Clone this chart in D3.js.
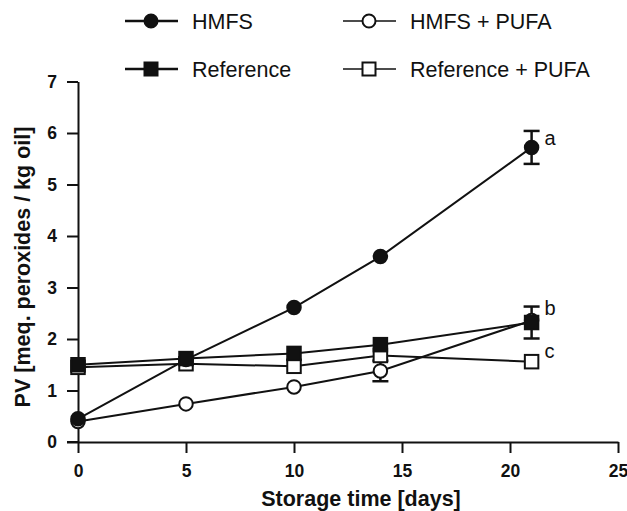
<!DOCTYPE html>
<html><head><meta charset="utf-8">
<script src="https://cdn.jsdelivr.net/npm/d3@7"></script>
<style>body{margin:0;background:#fff}svg{display:block}text{font-family:"Liberation Sans",Arial,Helvetica,sans-serif}</style>
</head><body><svg id="c" width="627" height="511"></svg>
<script>
const days = [0, 5, 10, 14, 21];
const hmfs = [0.45, 1.6, 2.61, 3.6, 5.72];
const hmfsPufa = [0.4, 0.74, 1.07, 1.38, 2.36];
const reference = [1.5, 1.62, 1.72, 1.89, 2.32];
const referencePufa = [1.45, 1.52, 1.47, 1.68, 1.56];
// error bars: [dayIndex, sd]
const errHmfs = [[4, 0.32]];
const errHmfsPufa = [[3, 0.2]];
const errReference = [[4, 0.31]];
const xTicks = [0, 5, 10, 15, 20, 25];
const yTicks = [0, 1, 2, 3, 4, 5, 6, 7];
// significance letters: [text, day, label value]
const letters = [["a", 21, 5.77], ["b", 21, 2.47], ["c", 21, 1.63]];
const legendNames = ["HMFS", "HMFS + PUFA", "Reference", "Reference + PUFA"];

const svg = d3.select("#c");
const x = d3.scaleLinear().domain([0, 25]).range([78, 618]);
const y = d3.scaleLinear().domain([0, 7]).range([442, 81.5]);

const xAx = svg.append("g").attr("transform", `translate(0,${y(0)})`)
  .call(d3.axisBottom(x).tickValues(xTicks).tickFormat(d3.format("d")).tickSize(11).tickPadding(12).tickSizeOuter(0));
const yAx = svg.append("g").attr("transform", `translate(${x(0)},0)`)
  .call(d3.axisLeft(y).tickValues(yTicks).tickFormat(d3.format("d")).tickSize(11).tickPadding(10).tickSizeOuter(0));
[xAx, yAx].forEach(a => {
  a.select(".domain").attr("stroke", "#111").attr("stroke-width", 2);
  a.selectAll(".tick line").attr("stroke", "#111").attr("stroke-width", 2);
  a.selectAll(".tick text").attr("fill", "#111").style("font-size", "17.5px").style("font-weight", "bold");
});
svg.append("line").attr("x1", x(0) - 11).attr("x2", x(0)).attr("y1", y(0)).attr("y2", y(0)).attr("stroke", "#111").attr("stroke-width", 2);

svg.append("text").attr("x", 361).attr("y", 506).attr("text-anchor", "middle")
  .style("font-size", "21.5px").style("font-weight", "bold").attr("fill", "#111").text("Storage time [days]");
svg.append("text").attr("transform", "translate(30,267) rotate(-90)").attr("text-anchor", "middle")
  .style("font-size", "21.5px").style("font-weight", "bold").attr("fill", "#111").text("PV [meq. peroxides / kg oil]");

const series = [
  {vals: referencePufa, shape: "square", fill: "#fff", err: []},
  {vals: hmfsPufa, shape: "circle", fill: "#fff", err: errHmfsPufa},
  {vals: hmfs, shape: "circle", fill: "#111", err: errHmfs},
  {vals: reference, shape: "square", fill: "#111", err: errReference},
];
const line = d3.line().x(d => x(d[0])).y(d => y(d[1]));
series.forEach(s => {
  const pts = days.map((d, i) => [d, s.vals[i]]);
  svg.append("path").attr("d", line(pts)).attr("fill", "none").attr("stroke", "#111").attr("stroke-width", 2);
});
series.forEach(s => {
  s.err.forEach(([i, sd]) => {
    const cx = x(days[i]), v = s.vals[i];
    const g = svg.append("g").attr("stroke", "#111").attr("stroke-width", 2.5);
    g.append("line").attr("x1", cx).attr("x2", cx).attr("y1", y(v + sd)).attr("y2", y(v - sd));
    [v + sd, v - sd].forEach(e => g.append("line").attr("x1", cx - 8).attr("x2", cx + 8).attr("y1", y(e)).attr("y2", y(e)));
  });
});
function marker(g, shape, fill, cx, cy, size) {
  if (shape === "circle") {
    g.append("circle").attr("cx", cx).attr("cy", cy).attr("r", size / 2 - 1)
      .attr("fill", fill).attr("stroke", "#111").attr("stroke-width", 2);
  } else {
    g.append("rect").attr("x", cx - size / 2 + 1).attr("y", cy - size / 2 + 1).attr("width", size - 2).attr("height", size - 2)
      .attr("fill", fill).attr("stroke", "#111").attr("stroke-width", 2);
  }
}
series.forEach(s => {
  days.forEach((d, i) => marker(svg, s.shape, s.fill, x(d), y(s.vals[i]), 15.5));
});
letters.forEach(([t, d, v]) => {
  svg.append("text").attr("x", x(d) + 13).attr("y", y(v)).style("font-size", "20px").attr("fill", "#111").text(t);
});

// legend
const legendShapes = [["circle", "#111"], ["circle", "#fff"], ["square", "#111"], ["square", "#fff"]];
const lx = [125, 343], ly = [21, 69];
legendNames.forEach((n, i) => {
  const cx0 = lx[i % 2], cy = ly[Math.floor(i / 2)];
  const g = svg.append("g");
  g.append("line").attr("x1", cx0).attr("x2", cx0 + 53).attr("y1", cy).attr("y2", cy)
    .attr("stroke", "#111").attr("stroke-width", i % 2 ? 1.5 : 2.5);
  marker(g, legendShapes[i][0], legendShapes[i][1], cx0 + 26, cy, 15);
  g.append("text").attr("x", 192 + (i % 2) * 218).attr("y", cy + 8).style("font-size", "21.5px").attr("fill", "#111").text(n);
});
</script></body></html>
